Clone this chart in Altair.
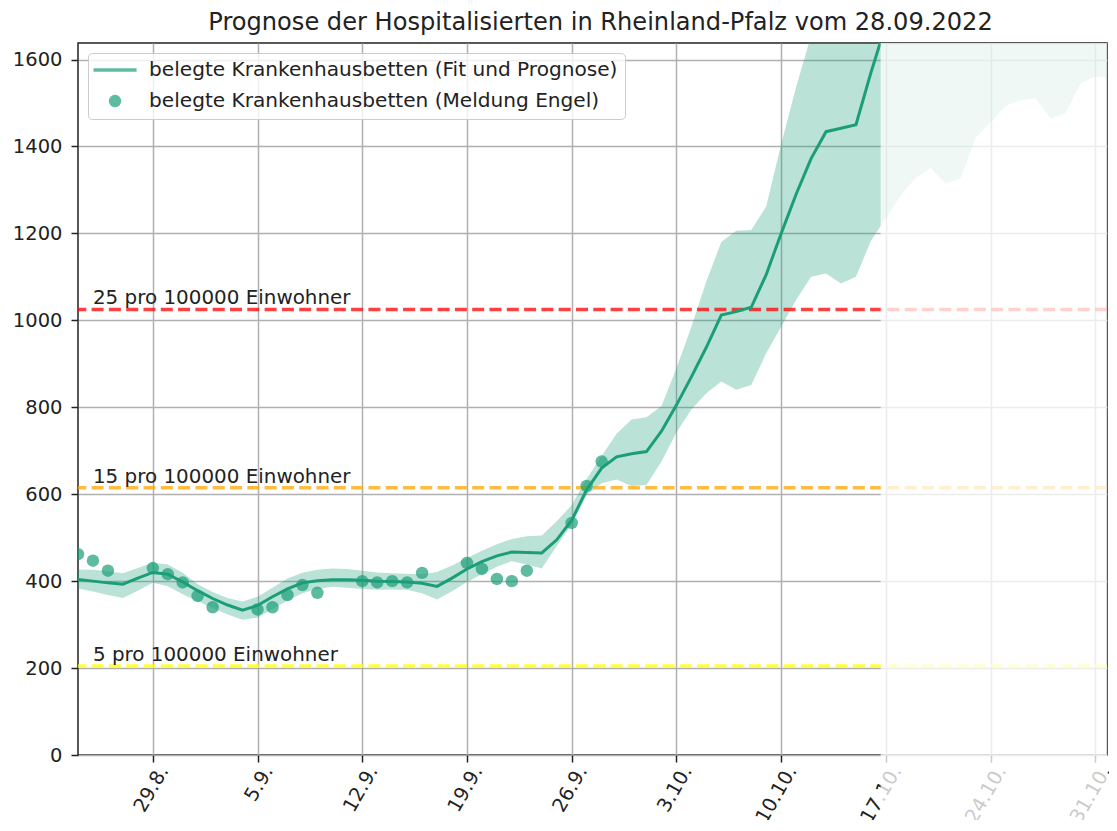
import json
import altair as alt
import pandas as pd

# ---------------- data ----------------
TITLE = "Prognose der Hospitalisierten in Rheinland-Pfalz vom 28.09.2022"
SERIES_FIT = "belegte Krankenhausbetten (Fit und Prognose)"
SERIES_OBS = "belegte Krankenhausbetten (Meldung Engel)"

REFERENCE_DAY = "2022-08-29"

BAND_START = "2022-08-24"
BAND_LOWER = [
    383, 376, 368, 361, 378, 396, 388, 370,
    354, 338, 323, 311, 316, 336, 355, 372, 382, 387, 385, 382, 380, 381, 380,
    372, 358, 377, 398, 416, 433, 446, 438, 429, 481, 530, 598, 625, 634, 619,
    621, 675, 742, 795, 832, 859, 840, 851, 924, 985, 1047, 1100, 1108, 1085,
    1100, 1183, 1235, 1287, 1328, 1350, 1315, 1327, 1420, 1455, 1493, 1507,
    1511, 1465, 1476, 1545, 1561,
    1559,
]
BAND_UPPER = [
    427, 426, 423, 418, 430, 442, 438, 419,
    393, 375, 361, 353, 364, 385, 406, 419, 426, 429, 428, 424, 420, 418, 417,
    416, 421, 436, 453, 470, 485, 497, 503, 505, 538, 575, 635, 688, 739, 772,
    777, 803, 890, 985, 1090, 1180, 1206, 1208, 1262, 1405, 1537, 1655, 1730,
    1770, 1800, 1900, 2000, 2050, 2100, 2150, 2150, 2200, 2300, 2350, 2400,
    2450, 2450, 2400, 2450, 2500, 2550,
    2550,
]

FIT_START = "2022-08-24"
FIT_VALUES = [
    404, 400, 396, 393, 407, 420, 416, 398,
    378, 360, 345, 333, 344, 364, 382, 396, 401, 403, 403, 402, 400, 399, 398,
    395, 388, 407, 428, 445, 458, 467, 466, 465, 495, 540, 610, 660, 686, 693,
    698, 745, 805, 870, 938, 1012, 1020, 1030, 1105, 1200, 1290, 1372, 1434,
    1442, 1450, 1570, 1680,
]

OBS_DATES = [
    "2022-08-24", "2022-08-25", "2022-08-26", "2022-08-29", "2022-08-30",
    "2022-08-31", "2022-09-01", "2022-09-02", "2022-09-05", "2022-09-06",
    "2022-09-07", "2022-09-08", "2022-09-09", "2022-09-12", "2022-09-13",
    "2022-09-14", "2022-09-15", "2022-09-16", "2022-09-19", "2022-09-20",
    "2022-09-21", "2022-09-22", "2022-09-23", "2022-09-26", "2022-09-27",
    "2022-09-28",
]
OBS_VALUES = [
    462, 447, 424, 430, 416, 397, 366, 340, 335, 340, 368, 391, 373,
    400, 397, 400, 397, 419, 442, 428, 405, 400, 424, 534, 619, 675,
]

THRESH_VALUES = [1025, 615, 205]
THRESH_LABELS = ["25 pro 100000 Einwohner", "15 pro 100000 Einwohner", "5 pro 100000 Einwohner"]
THRESH_COLORS = ["#ff0000", "#ffa500", "#ffff00"]

TICK_DATES = ["2022-08-29", "2022-09-05", "2022-09-12", "2022-09-19", "2022-09-26",
              "2022-10-03", "2022-10-10", "2022-10-17", "2022-10-24", "2022-10-31"]
TICK_LABELS = ["29.8.", "5.9.", "12.9.", "19.9.", "26.9.", "3.10.", "10.10.", "17.10.", "24.10.", "31.10."]
Y_TICKS = [0, 200, 400, 600, 800, 1000, 1200, 1400, 1600]

# ---------------- helpers ----------------
ref = pd.Timestamp(REFERENCE_DAY)


def day(d):
    return (pd.Timestamp(d) - ref).days


band_df = pd.DataFrame({
    "day": [day(BAND_START) + i for i in range(len(BAND_LOWER))],
    "lower": BAND_LOWER,
    "upper": BAND_UPPER,
})
fit_df = pd.DataFrame({
    "day": [day(FIT_START) + i for i in range(len(FIT_VALUES))],
    "fit": FIT_VALUES,
})
obs_df = pd.DataFrame({
    "day": [day(d) for d in OBS_DATES],
    "value": OBS_VALUES,
    "series": SERIES_OBS,
})
thr_df = pd.DataFrame({"value": THRESH_VALUES, "label": THRESH_LABELS, "color": THRESH_COLORS})
TICK_DAYS = [day(d) for d in TICK_DATES]

PLOT_W = 1029
PLOT_H = 712
X_MIN = -5.0
X_MAX = 63.78
Y_MAX = 1638
FADE_START = 48.65
LABEL_X = -4
GREEN = "#1b9e77"
FONT = "DejaVu Sans"
TXT = "#222222"

xscale = alt.Scale(domain=[X_MIN, X_MAX], nice=False, zero=False)
yscale = alt.Scale(domain=[0, Y_MAX], nice=False, zero=False)

label_expr = f"{json.dumps(TICK_LABELS)}[indexof({json.dumps(TICK_DAYS)}, datum.value)]"
xaxis = alt.Axis(
    values=TICK_DAYS, labelExpr=label_expr, labelAngle=-60, labelAlign="right",
    labelBaseline="middle", labelOffset=10.5, labelPadding=5, labelOverlap=False,
    labelFlush=False, title=None, grid=True, domain=False,
)
yaxis = alt.Axis(values=Y_TICKS, format="d", labelPadding=9, title=None, grid=True,
                 domain=False, labelOverlap=False)

BAR_PATH = "M-3.45,-0.28H3.45V0.28H-3.45Z"

band = alt.Chart(band_df).mark_area(color=GREEN, opacity=0.3, clip=True).encode(
    x=alt.X("day:Q", scale=xscale, axis=xaxis),
    y=alt.Y("lower:Q", scale=yscale, axis=yaxis),
    y2="upper:Q",
)

rules = alt.Chart(thr_df).mark_rule(strokeDash=[12, 5.3], strokeWidth=3.5, opacity=0.75).encode(
    y=alt.Y("value:Q", scale=yscale, axis=yaxis),
    color=alt.Color("color:N", scale=None),
)

texts = alt.Chart(thr_df).mark_text(
    align="left", baseline="alphabetic", dy=-5, fontSize=19.9, font=FONT, color=TXT
).encode(
    x=alt.datum(LABEL_X),
    y=alt.Y("value:Q", scale=yscale, axis=yaxis),
    text="label:N",
)

line = alt.Chart(fit_df).mark_line(color=GREEN, strokeWidth=3, clip=True).encode(
    x=alt.X("day:Q", scale=xscale, axis=xaxis),
    y=alt.Y("fit:Q", scale=yscale, axis=yaxis),
)

points = alt.Chart(obs_df).mark_point(
    filled=True, color=GREEN, opacity=0.7, size=156, clip=True
).encode(
    x=alt.X("day:Q", scale=xscale, axis=xaxis),
    y=alt.Y("value:Q", scale=yscale, axis=yaxis),
    shape=alt.Shape(
        "series:N",
        scale=alt.Scale(domain=[SERIES_FIT, SERIES_OBS], range=[BAR_PATH, "circle"]),
        legend=alt.Legend(
            title=None, orient="top-left", offset=10, padding=7, cornerRadius=4,
            strokeColor="#cccccc", fillColor="rgba(255,255,255,0.8)",
            labelFontSize=20.1, labelFont=FONT, labelColor=TXT, labelLimit=1000,
            symbolSize=156, symbolOffset=10, labelOffset=24, rowPadding=10,
            symbolStrokeWidth=0,
        ),
    ),
)

overlay = alt.Chart(pd.DataFrame({"k": [0]})).mark_rect(color="white", opacity=0.76).encode(
    x=alt.datum(FADE_START),
    x2=alt.datum(X_MAX),
    y=alt.value(0),
    y2=alt.value(PLOT_H + 80),
)

chart = alt.layer(band, rules, texts, line, points, overlay).properties(
    width=PLOT_W,
    height=PLOT_H,
    title=alt.TitleParams(text=TITLE, fontSize=24.1, font=FONT, fontWeight="normal",
                          color=TXT, offset=8, dx=8),
    autosize=alt.AutoSizeParams(type="none"),
    padding={"left": 70, "top": 35, "right": 2, "bottom": 65},
).configure(font=FONT).configure_axis(
    labelFont=FONT, labelFontSize=19.5, labelColor=TXT, tickColor=TXT, tickWidth=1.5,
    tickSize=7, gridColor="#b0b0b0", gridWidth=1.5,
).configure_view(stroke=TXT, strokeWidth=1.5)

chart.save("out.html", embed_options={"renderer": "svg", "actions": False})
